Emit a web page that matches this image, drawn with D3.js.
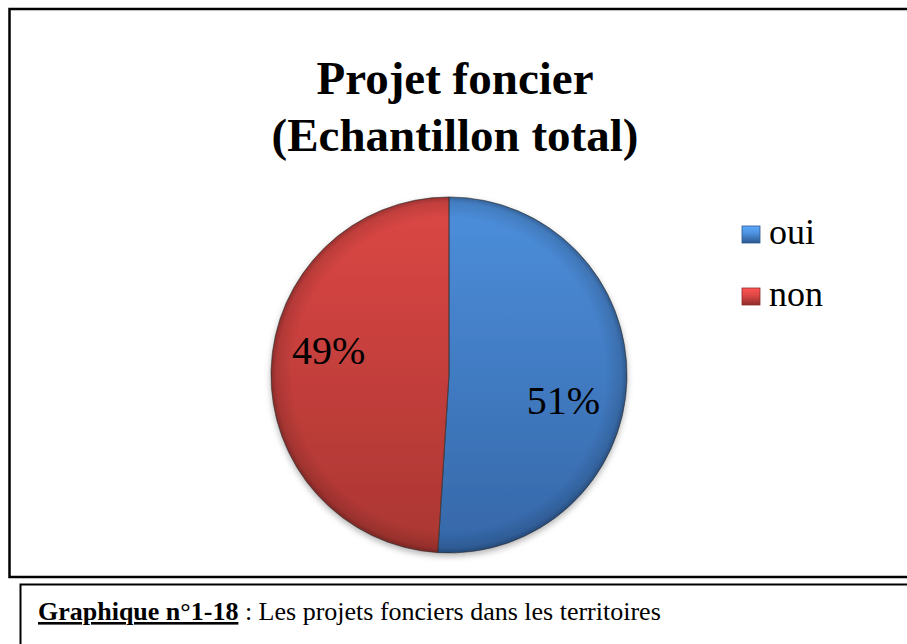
<!DOCTYPE html>
<html>
<head>
<meta charset="utf-8">
<script src="https://cdn.jsdelivr.net/npm/d3@7"></script>
<style>
	body { margin: 0; background: #fff; }
	svg { display: block; }
</style>
</head>
<body>
<svg id="chart" width="907" height="644"></svg>
<script>
var categories = ["oui", "non"];
var values = [51, 49];
var labels = ["51%", "49%"];
var titleLines = ["Projet foncier", "(Echantillon total)"];
var captionBold = "Graphique n°1-18 ";
var captionText = ": Les projets fonciers dans les territoires";

var svg = d3.select("#chart"),
    width = +svg.attr("width"),
    height = +svg.attr("height");

var colors = {
	oui: { top: "#4d8fdc", bottom: "#3567a8", edge: "#2c5890" },
	non: { top: "#dc4745", bottom: "#aa3632", edge: "#8e2c29" }
};

var defs = svg.append("defs");

categories.forEach(function (c) {
	var g = defs.append("linearGradient")
		.attr("id", "grad-" + c)
		.attr("x1", 0).attr("y1", 0).attr("x2", 0).attr("y2", 1);
	g.append("stop").attr("offset", "0%").attr("stop-color", colors[c].top);
	g.append("stop").attr("offset", "100%").attr("stop-color", colors[c].bottom);

	var lg = defs.append("linearGradient")
		.attr("id", "leg-" + c)
		.attr("x1", 0).attr("y1", 0).attr("x2", 0).attr("y2", 1);
	lg.append("stop").attr("offset", "0%").attr("stop-color", d3.color(colors[c].top).brighter(0.5));
	lg.append("stop").attr("offset", "45%").attr("stop-color", colors[c].top);
	lg.append("stop").attr("offset", "100%").attr("stop-color", colors[c].edge);
});

// darkened rim, like the office bevel
var rim = defs.append("radialGradient").attr("id", "rim");
rim.append("stop").attr("offset", "88%").attr("stop-color", "#000").attr("stop-opacity", 0);
rim.append("stop").attr("offset", "97%").attr("stop-color", "#000").attr("stop-opacity", 0.12);
rim.append("stop").attr("offset", "100%").attr("stop-color", "#000").attr("stop-opacity", 0.3);

var shadow = defs.append("filter").attr("id", "shadow")
	.attr("x", "-10%").attr("y", "-10%").attr("width", "120%").attr("height", "125%");
shadow.append("feDropShadow")
	.attr("dx", 0).attr("dy", 3).attr("stdDeviation", 3)
	.attr("flood-color", "#000").attr("flood-opacity", 0.3);

// frames
svg.append("rect")
	.attr("x", 9.5).attr("y", 9)
	.attr("width", width + 20).attr("height", 568)
	.attr("fill", "none").attr("stroke", "#000").attr("stroke-width", 2.5);

svg.append("rect")
	.attr("x", 20.5).attr("y", 584.5)
	.attr("width", width + 20).attr("height", 100)
	.attr("fill", "none").attr("stroke", "#000").attr("stroke-width", 2);

// title
svg.append("g")
	.attr("font-family", "'Liberation Serif', 'Times New Roman', serif")
	.attr("font-weight", "bold")
	.attr("font-size", 47)
	.attr("text-anchor", "middle")
	.selectAll("text")
	.data(titleLines)
	.enter().append("text")
	  .attr("x", 455)
	  .attr("y", function (d, i) { return 94 + i * 57; })
	  .text(function (d) { return d; });

// pie
var cx = 449, cy = 375, r = 178;

var pie = d3.pie().sort(null).value(function (d) { return d.value; });
var data = categories.map(function (c, i) { return { key: c, value: values[i], label: labels[i] }; });
var arcs = pie(data);

var arc = d3.arc().innerRadius(0).outerRadius(r);

var gp = svg.append("g").attr("transform", "translate(" + cx + "," + cy + ")");

var slices = gp.append("g").attr("filter", "url(#shadow)");

slices.selectAll("path")
	.data(arcs)
	.enter().append("path")
	  .attr("d", arc)
	  .attr("fill", function (d) { return "url(#grad-" + d.data.key + ")"; })
	  .attr("stroke", "#3a3a3a")
	  .attr("stroke-width", 0.6)
	  .attr("stroke-opacity", 0.6);

gp.append("circle")
	.attr("r", r)
	.attr("fill", "url(#rim)")
	.attr("pointer-events", "none");

gp.selectAll("path.edge")
	.data(arcs)
	.enter().append("path")
	  .attr("class", "edge")
	  .attr("d", arc)
	  .attr("fill", "none")
	  .attr("stroke", "#333")
	  .attr("stroke-width", 0.8)
	  .attr("stroke-opacity", 0.5);

var labelR = 120, labelShift = 10 * Math.PI / 180;

gp.append("g")
	.attr("font-family", "'Liberation Serif', 'Times New Roman', serif")
	.attr("font-size", 40)
	.attr("text-anchor", "middle")
	.selectAll("text")
	.data(arcs)
	.enter().append("text")
	  .attr("x", function (d) { return labelR * Math.sin((d.startAngle + d.endAngle) / 2 + labelShift) - 3; })
	  .attr("y", function (d) { return -labelR * Math.cos((d.startAngle + d.endAngle) / 2 + labelShift); })
	  .attr("dy", "0.35em")
	  .text(function (d) { return d.data.label; });

// legend
var legend = svg.append("g")
	.attr("font-family", "'Liberation Serif', 'Times New Roman', serif")
	.attr("font-size", 36)
	.selectAll("g")
	.data(categories)
	.enter().append("g")
	  .attr("transform", function (d, i) { return "translate(742," + (226 + i * 62) + ")"; });

legend.append("rect")
	.attr("width", 18)
	.attr("height", 17)
	.attr("fill", function (d) { return "url(#leg-" + d + ")"; })
	.attr("stroke", function (d) { return colors[d].edge; })
	.attr("stroke-width", 0.8);

legend.append("text")
	.attr("x", 27)
	.attr("y", 18)
	.text(function (d) { return d; });

// caption
var cap = svg.append("text")
	.attr("x", 38)
	.attr("y", 620)
	.attr("font-family", "'Liberation Serif', 'Times New Roman', serif")
	.attr("font-size", 26);

cap.append("tspan")
	.attr("font-weight", "bold")
	.attr("text-decoration", "underline")
	.text(captionBold.trim());
cap.append("tspan")
	.text(" " + captionText);
</script>
</body>
</html>
